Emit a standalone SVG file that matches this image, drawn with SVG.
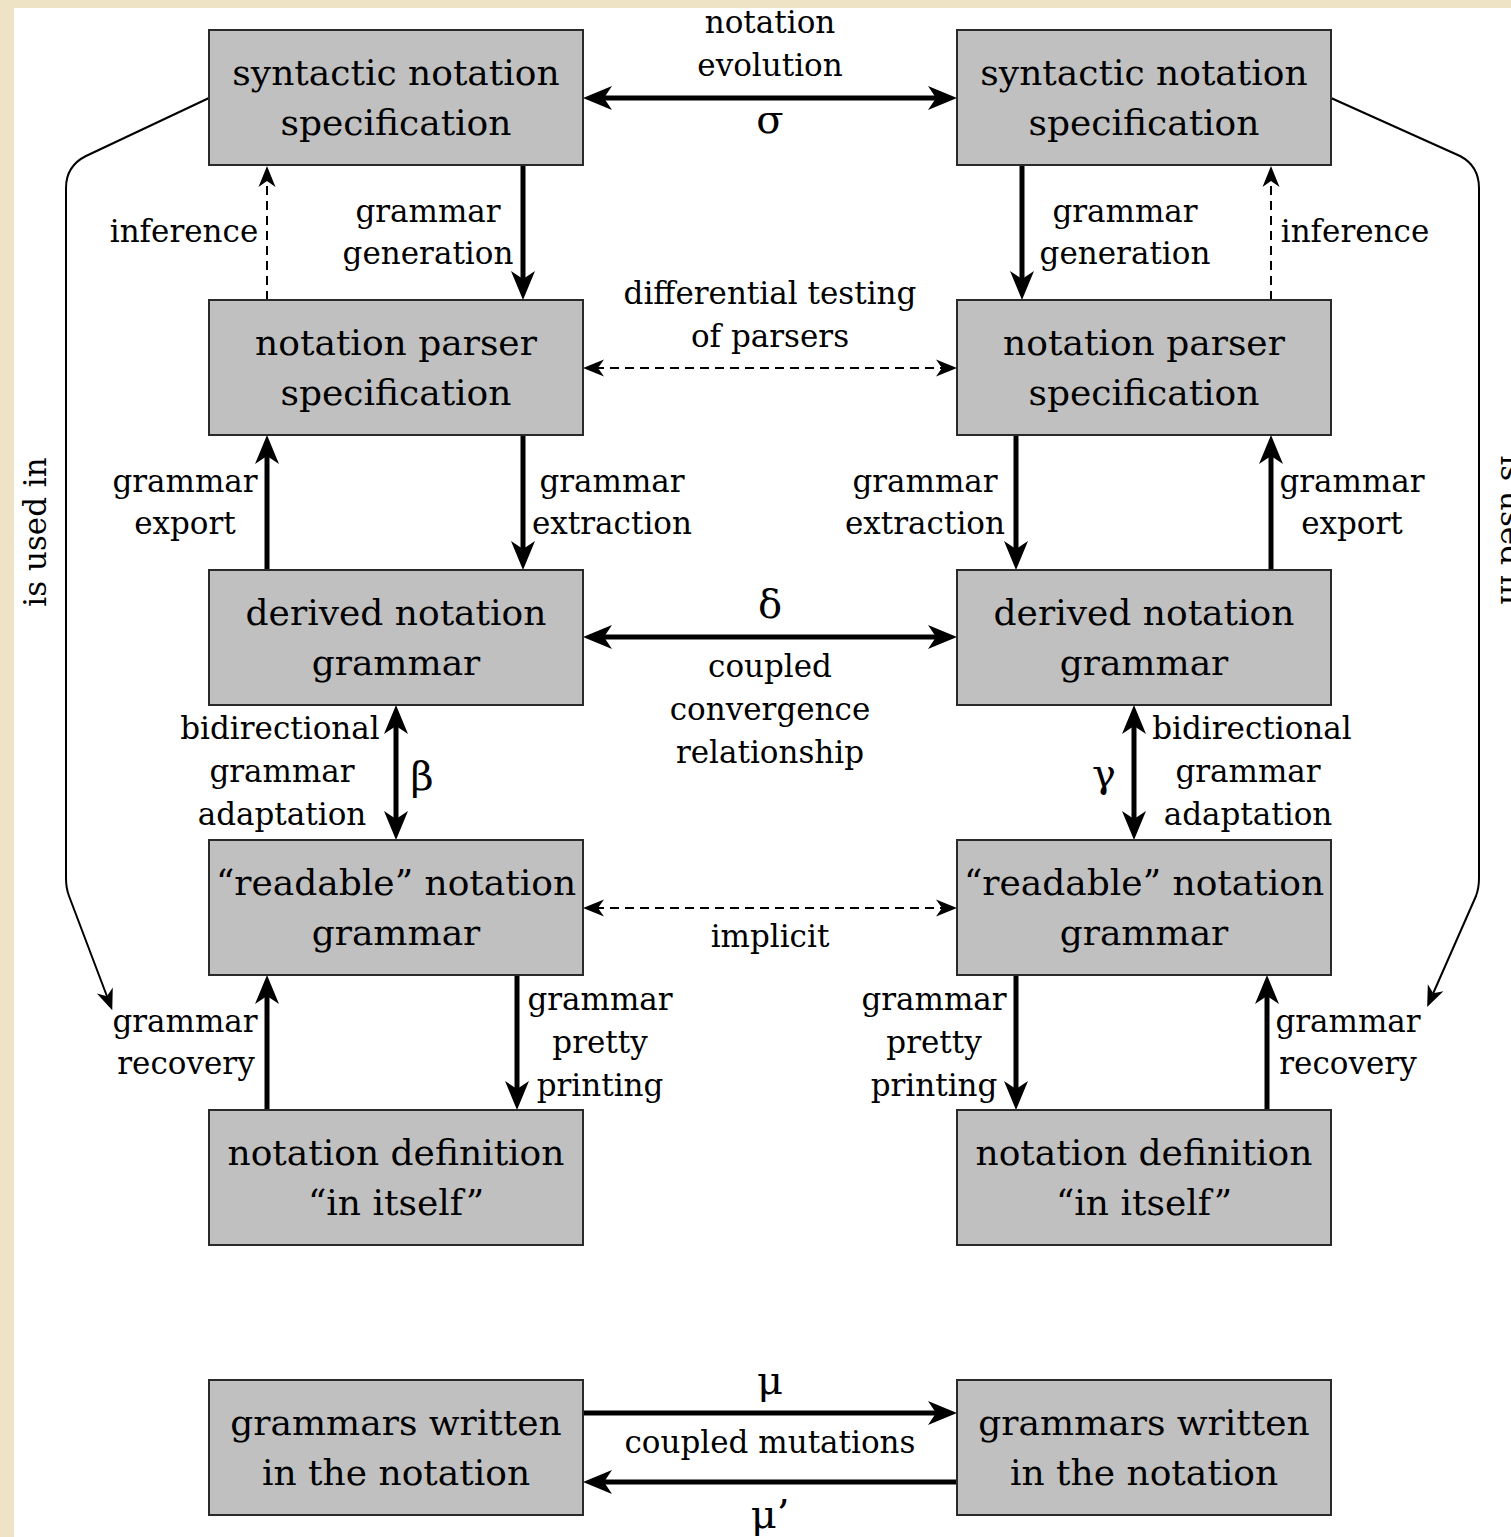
<svg xmlns="http://www.w3.org/2000/svg" width="1511" height="1537" viewBox="0 0 1511 1537">
<style>
.box{fill:#c0c0c0;stroke:#2a2a2a;stroke-width:2}
.bt{font-family:"DejaVu Serif",serif;font-size:36px;fill:#000;text-anchor:middle}
.lb{font-family:"DejaVu Serif",serif;font-size:31px;fill:#000;text-anchor:middle}
.gk{font-family:"DejaVu Serif",serif;font-size:40px;fill:#000;text-anchor:middle}
.thick{fill:none;stroke:#000;stroke-width:5}
.thin{fill:none;stroke:#000;stroke-width:2}
.dash{fill:none;stroke:#000;stroke-width:2;stroke-dasharray:9 6}
</style>
<defs>
<marker id="ah" markerUnits="userSpaceOnUse" orient="auto-start-reverse" refX="0" refY="0" markerWidth="40" markerHeight="40" overflow="visible">
<path d="M14,0 L-15,-12 L-7,0 L-15,12 Z" fill="#000"/>
</marker>
<marker id="at" markerUnits="userSpaceOnUse" orient="auto-start-reverse" refX="0" refY="0" markerWidth="30" markerHeight="30" overflow="visible">
<path d="M12,0 L-9,-8.5 L-3,0 L-9,8.5 Z" fill="#000"/>
</marker>
</defs>
<rect x="0" y="0" width="1511" height="1537" fill="#eee4c5"/>
<rect x="14" y="8" width="1497" height="1529" fill="#ffffff"/>

<g id="connectors">
<!-- left column -->
<path class="thick" d="M523,165 L523,286" marker-end="url(#ah)"/>
<path class="dash" d="M267,300 L267,178" marker-end="url(#at)"/>
<path class="thick" d="M267,570 L267,449" marker-end="url(#ah)"/>
<path class="thick" d="M523,435 L523,556" marker-end="url(#ah)"/>
<path class="thick" d="M396,719 L396,826" marker-start="url(#ah)" marker-end="url(#ah)"/>
<path class="thick" d="M267,1110 L267,989" marker-end="url(#ah)"/>
<path class="thick" d="M517,975 L517,1096" marker-end="url(#ah)"/>
<!-- right column -->
<path class="thick" d="M1022,165 L1022,286" marker-end="url(#ah)"/>
<path class="dash" d="M1271,300 L1271,178" marker-end="url(#at)"/>
<path class="thick" d="M1016,435 L1016,556" marker-end="url(#ah)"/>
<path class="thick" d="M1271,570 L1271,449" marker-end="url(#ah)"/>
<path class="thick" d="M1134,719 L1134,826" marker-start="url(#ah)" marker-end="url(#ah)"/>
<path class="thick" d="M1016,975 L1016,1096" marker-end="url(#ah)"/>
<path class="thick" d="M1267,1110 L1267,989" marker-end="url(#ah)"/>
<!-- horizontal -->
<path class="thick" d="M597,98 L943,98" marker-start="url(#ah)" marker-end="url(#ah)"/>
<path class="dash" d="M595,368 L945,368" marker-start="url(#at)" marker-end="url(#at)"/>
<path class="thick" d="M597,637 L943,637" marker-start="url(#ah)" marker-end="url(#ah)"/>
<path class="dash" d="M595,908 L945,908" marker-start="url(#at)" marker-end="url(#at)"/>
<path class="thick" d="M583,1413 L943,1413" marker-end="url(#ah)"/>
<path class="thick" d="M957,1482 L597,1482" marker-end="url(#ah)"/>
<!-- is used in -->
<path class="thin" d="M209,98 L86,156 Q66,166 66,188 L66,878 Q66,888 69,896 L108,999" marker-end="url(#at)"/>
<path class="thin" d="M1331,98 L1460,156 Q1479,166 1479,188 L1479,878 Q1479,888 1476,896 L1432,996" marker-end="url(#at)"/>
</g>

<g id="labels">
<text class="lb" x="770" y="33">notation</text>
<text class="lb" x="770" y="76">evolution</text>
<text class="gk" x="770" y="133">σ</text>
<text class="lb" x="428" y="222">grammar</text>
<text class="lb" x="428" y="264">generation</text>
<text class="lb" x="184" y="242">inference</text>
<text class="lb" x="1125" y="222">grammar</text>
<text class="lb" x="1125" y="264">generation</text>
<text class="lb" x="1355" y="242">inference</text>
<text class="lb" x="770" y="304">differential testing</text>
<text class="lb" x="770" y="347">of parsers</text>
<text class="lb" x="185" y="492">grammar</text>
<text class="lb" x="185" y="534">export</text>
<text class="lb" x="612" y="492">grammar</text>
<text class="lb" x="612" y="534">extraction</text>
<text class="lb" x="925" y="492">grammar</text>
<text class="lb" x="925" y="534">extraction</text>
<text class="lb" x="1352" y="492">grammar</text>
<text class="lb" x="1352" y="534">export</text>
<text class="gk" x="770" y="618">δ</text>
<text class="lb" x="770" y="677">coupled</text>
<text class="lb" x="770" y="720">convergence</text>
<text class="lb" x="770" y="763">relationship</text>
<text class="lb" x="280" y="739">bidirectional</text>
<text class="lb" x="282" y="782">grammar</text>
<text class="lb" x="282" y="825">adaptation</text>
<text class="gk" x="422" y="790">β</text>
<text class="lb" x="1252" y="739">bidirectional</text>
<text class="lb" x="1248" y="782">grammar</text>
<text class="lb" x="1248" y="825">adaptation</text>
<text class="gk" x="1104" y="787">γ</text>
<text class="lb" x="770" y="947">implicit</text>
<text class="lb" x="185" y="1032">grammar</text>
<text class="lb" x="186" y="1074">recovery</text>
<text class="lb" x="600" y="1010">grammar</text>
<text class="lb" x="600" y="1053">pretty</text>
<text class="lb" x="600" y="1096">printing</text>
<text class="lb" x="934" y="1010">grammar</text>
<text class="lb" x="934" y="1053">pretty</text>
<text class="lb" x="934" y="1096">printing</text>
<text class="lb" x="1348" y="1032">grammar</text>
<text class="lb" x="1348" y="1074">recovery</text>
<text class="gk" x="770" y="1394">μ</text>
<text class="lb" x="770" y="1453">coupled mutations</text>
<text class="gk" x="770" y="1528">μ’</text>
<text class="lb" transform="translate(46,532) rotate(-90)">is used in</text>
<text class="lb" transform="translate(1501,530) rotate(90)">is used in</text>
</g>

<g id="n-syn-l"><rect class="box" x="209" y="30" width="374" height="135"/><text class="bt" x="396" y="85">syntactic notation</text><text class="bt" x="396" y="135">specification</text></g>
<g id="n-syn-r"><rect class="box" x="957" y="30" width="374" height="135"/><text class="bt" x="1144" y="85">syntactic notation</text><text class="bt" x="1144" y="135">specification</text></g>
<g id="n-par-l"><rect class="box" x="209" y="300" width="374" height="135"/><text class="bt" x="396" y="355">notation parser</text><text class="bt" x="396" y="405">specification</text></g>
<g id="n-par-r"><rect class="box" x="957" y="300" width="374" height="135"/><text class="bt" x="1144" y="355">notation parser</text><text class="bt" x="1144" y="405">specification</text></g>
<g id="n-der-l"><rect class="box" x="209" y="570" width="374" height="135"/><text class="bt" x="396" y="625">derived notation</text><text class="bt" x="396" y="675">grammar</text></g>
<g id="n-der-r"><rect class="box" x="957" y="570" width="374" height="135"/><text class="bt" x="1144" y="625">derived notation</text><text class="bt" x="1144" y="675">grammar</text></g>
<g id="n-read-l"><rect class="box" x="209" y="840" width="374" height="135"/><text class="bt" x="396" y="895">“readable” notation</text><text class="bt" x="396" y="945">grammar</text></g>
<g id="n-read-r"><rect class="box" x="957" y="840" width="374" height="135"/><text class="bt" x="1144" y="895">“readable” notation</text><text class="bt" x="1144" y="945">grammar</text></g>
<g id="n-def-l"><rect class="box" x="209" y="1110" width="374" height="135"/><text class="bt" x="396" y="1165">notation definition</text><text class="bt" x="396" y="1215">“in itself”</text></g>
<g id="n-def-r"><rect class="box" x="957" y="1110" width="374" height="135"/><text class="bt" x="1144" y="1165">notation definition</text><text class="bt" x="1144" y="1215">“in itself”</text></g>
<g id="n-gw-l"><rect class="box" x="209" y="1380" width="374" height="135"/><text class="bt" x="396" y="1435">grammars written</text><text class="bt" x="396" y="1485">in the notation</text></g>
<g id="n-gw-r"><rect class="box" x="957" y="1380" width="374" height="135"/><text class="bt" x="1144" y="1435">grammars written</text><text class="bt" x="1144" y="1485">in the notation</text></g>
</svg>
